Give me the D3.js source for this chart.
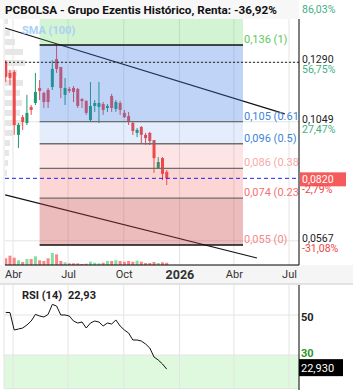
<!DOCTYPE html>
<html>
<head>
<meta charset="utf-8">
<script src="https://cdn.jsdelivr.net/npm/d3@7"></script>
<style>
    body { margin: 0; background: #fff; }
    svg { display: block; font-family: Roboto, "Noto Sans", sans-serif; }
</style>
</head>
<body>
<div id="chart-area"></div>
<script>

// ---- data ----
const titleText = "PCBOLSA - Grupo Ezentis Histórico, Renta: -36,92%";

// weekly candles, first week ~ 20 Mar 2025
const firstWeek = new Date(2025, 2, 20);
const opens  = [0.1291,0.1247,0.1251,0.0996,0.1068,0.1044,0.1109,0.1125,0.1186,0.1166,0.1178,0.1190,0.1303,0.1271,0.1158,0.1182,0.1186,0.1182,0.1141,0.1133,0.1056,0.1113,0.1109,0.1121,0.1105,0.1153,0.1101,0.1125,0.1085,0.1072,0.1044,0.1004,0.1028,0.0996,0.1004,0.0975,0.0862,0.0902,0.0846];
const highs  = [0.1299,0.1259,0.1259,0.1044,0.1077,0.1158,0.1117,0.1247,0.1218,0.1170,0.1186,0.1299,0.1360,0.1271,0.1226,0.1190,0.1194,0.1186,0.1145,0.1137,0.1210,0.1137,0.1210,0.1129,0.1121,0.1162,0.1137,0.1133,0.1097,0.1089,0.1052,0.1024,0.1032,0.1004,0.1008,0.0975,0.0906,0.0906,0.0854];
const lows   = [0.1210,0.1198,0.0996,0.0943,0.1016,0.1036,0.1077,0.1117,0.1137,0.1105,0.1105,0.1178,0.1247,0.1145,0.1117,0.1166,0.1129,0.1105,0.1105,0.1077,0.1048,0.1089,0.1044,0.1077,0.1089,0.1089,0.1089,0.1077,0.1064,0.1036,0.0996,0.0987,0.0963,0.0955,0.0955,0.0842,0.0858,0.0813,0.0793];
const closes = [0.1230,0.1226,0.1036,0.1036,0.1048,0.1085,0.1097,0.1170,0.1174,0.1129,0.1129,0.1263,0.1263,0.1186,0.1186,0.1174,0.1170,0.1113,0.1133,0.1085,0.1113,0.1125,0.1125,0.1097,0.1113,0.1105,0.1129,0.1097,0.1068,0.1048,0.1012,0.1016,0.0996,0.0983,0.0971,0.0902,0.0886,0.0838,0.0820];
const volumes = [67,93,73,47,30,60,60,87,47,40,67,120,107,40,27,17,17,17,10,13,33,23,17,23,40,40,47,40,33,40,33,43,33,20,20,30,20,27,23];
const rsiValues = [51.3,51.2,42.5,43,43.5,45,47,50.3,49.5,49,50.3,55.3,54.5,50,50,49.5,47,46,46.5,43.5,46,47,46.5,44.5,46,45.5,47.5,44.5,42.5,41,37.5,37.5,37,35.5,33.5,29,27.5,25.5,22.93];

// volume profile on the left edge
const profilePrices = [0.1457,0.1409,0.1372,0.1332,0.1287,0.1247,0.1206,0.1166,0.1125,0.1085,0.1044,0.1004,0.0963,0.0923,0.0882,0.0842];
const profileVolumes = [3,5,10,18,20,12,18,15,17,15,18,8,5,4,3,2];

// fibonacci retracement
const fibLevels = [0.136, 0.105, 0.096, 0.086, 0.074, 0.055];
const fibLabels = ["0,136 (1)", "0,105 (0.618)", "0,096 (0.5)", "0,086 (0.382)", "0,074 (0.236)", "0,055 (0)"];
const fibStart = new Date(2025, 4, 15);
const fibEnd = new Date(2026, 3, 16);

// channel lines [date, price]
const upperLine = [[new Date(2025, 2, 19), 0.1429], [new Date(2026, 5, 24), 0.1081]];
const lowerLine = [[new Date(2025, 2, 19), 0.0753], [new Date(2026, 4, 9), 0.0497]];

const refPrice = 0.1290;
const lastPrice = 0.0820;
const lastPriceLabel = "0,0820";
const lastPctLabel = "-2,79%";
const priceTicks = [0.1290, 0.1049, 0.0567];
const priceTickLabels = ["0,1290", "0,1049", "0,0567"];
const pctLabels = ["56,75%", "27,47%", "-31,08%"];
const topPctLabel = "86,03%";

const monthTicks = [new Date(2025,3,1), new Date(2025,6,1), new Date(2025,9,1), new Date(2026,0,1), new Date(2026,3,1), new Date(2026,6,1)];
const monthLabels = ["Abr", "Jul", "Oct", "2026", "Abr", "Jul"];
const rsiTicks = [50, 30];
const rsiLast = 22.93;

class PriceChartVis {

    constructor(parentElement) {
        this.parentElement = parentElement;
        this.dates = opens.map((d, i) => d3.timeDay.offset(firstWeek, 7 * i));
        this.initVis();
    }

    initVis() {
        let vis = this;

        vis.width = 353;
        vis.height = 390;
        vis.plot = {left: 5, right: 299, top: 19, bottom: 265};
        vis.rsiPanel = {top: 285, bottom: 389};

        vis.svg = d3.select("#" + vis.parentElement).append("svg")
            .attr("width", vis.width)
            .attr("height", vis.height);

        // scales
        vis.x = d3.scaleTime()
            .domain([new Date(2025, 3, 1), new Date(2026, 6, 1)])
            .range([13, 289]);

        vis.y = d3.scaleLinear()
            .domain([0.055, 0.136])
            .range([245, 45]);

        vis.yRsi = d3.scaleLinear()
            .domain([30, 50])
            .range([355, 315]);

        vis.yVol = d3.scaleLinear()
            .domain([0, 100])
            .range([vis.plot.bottom, vis.plot.bottom - 10]);

        vis.svg.append("defs").append("clipPath")
            .attr("id", "plot-clip")
            .append("rect")
            .attr("x", vis.plot.left)
            .attr("y", vis.plot.top)
            .attr("width", vis.plot.right - vis.plot.left)
            .attr("height", vis.plot.bottom - vis.plot.top);

        vis.drawFrame();
        vis.drawPricePanel();
        vis.drawRsiPanel();
    }

    drawFrame() {
        let vis = this;

        // title strip
        vis.svg.append("rect")
            .attr("x", 0).attr("y", 0)
            .attr("width", vis.plot.right).attr("height", vis.plot.top)
            .attr("fill", "#f7f7f7");

        vis.svg.append("text")
            .attr("x", 5)
            .attr("y", 14)
            .attr("font-size", 11.7)
            .attr("font-weight", "bold")
            .attr("fill", "#111")
            .text(titleText);

        // date axis strip
        vis.svg.append("rect")
            .attr("x", 0).attr("y", vis.plot.bottom)
            .attr("width", vis.width).attr("height", vis.rsiPanel.top - vis.plot.bottom)
            .attr("fill", "#f5f5f5");

        vis.svg.append("line")
            .attr("x1", 0).attr("x2", vis.width)
            .attr("y1", vis.rsiPanel.top - 1).attr("y2", vis.rsiPanel.top - 1)
            .attr("stroke", "#e2e2e2")
            .attr("stroke-width", 2);

        let xAxis = d3.axisBottom(vis.x)
            .tickValues(monthTicks)
            .tickSize(0)
            .tickFormat((d, i) => monthLabels[i]);

        let axisG = vis.svg.append("g")
            .attr("transform", "translate(0," + (vis.plot.bottom + 2) + ")")
            .call(xAxis);
        axisG.select(".domain").remove();
        axisG.selectAll("text")
            .attr("font-family", "Roboto, sans-serif")
            .attr("fill", "#333")
            .attr("font-weight", (d, i) => monthLabels[i] === "2026" ? "bold" : "normal")
            .attr("font-size", (d, i) => monthLabels[i] === "2026" ? 12.5 : 11);
    }

    drawPricePanel() {
        let vis = this;
        let p = vis.plot;

        let g = vis.svg.append("g").attr("clip-path", "url(#plot-clip)");

        // vertical grid
        g.selectAll(".vgrid")
            .data(monthTicks)
            .enter().append("line")
            .attr("x1", d => vis.x(d)).attr("x2", d => vis.x(d))
            .attr("y1", p.top).attr("y2", p.bottom)
            .attr("stroke", "#e4e4e4");

        // horizontal grid
        g.selectAll(".hgrid")
            .data(priceTicks)
            .enter().append("line")
            .attr("x1", p.left).attr("x2", p.right)
            .attr("y1", d => vis.y(d)).attr("y2", d => vis.y(d))
            .attr("stroke", "#e4e4e4");

        // volume profile
        g.selectAll(".profile")
            .data(profilePrices)
            .enter().append("rect")
            .attr("x", p.left)
            .attr("y", d => vis.y(d) - 3)
            .attr("width", (d, i) => profileVolumes[i])
            .attr("height", 6)
            .attr("fill", "#e6e6e6");

        // channel lines
        let line = d3.line().x(d => vis.x(d[0])).y(d => vis.y(d[1]));
        [upperLine, lowerLine].forEach(l => {
            g.append("path")
                .datum(l)
                .attr("d", line)
                .attr("fill", "none")
                .attr("stroke", "#111")
                .attr("stroke-width", 1.1);
        });

        // volume bars
        let up = (i) => closes[i] >= opens[i];
        g.selectAll(".vol")
            .data(volumes)
            .enter().append("rect")
            .attr("x", (d, i) => vis.x(vis.dates[i]) - 1.5)
            .attr("width", 3)
            .attr("y", d => vis.yVol(d))
            .attr("height", d => vis.plot.bottom - vis.yVol(d))
            .attr("fill", (d, i) => up(i) ? "#7fe0a0" : "#fb8585");

        // candles
        let candleColor = (i) => up(i) ? "#1f9a72" : "#f34848";
        let candle = g.selectAll(".candle")
            .data(opens)
            .enter().append("g");

        candle.append("line")
            .attr("x1", (d, i) => vis.x(vis.dates[i]))
            .attr("x2", (d, i) => vis.x(vis.dates[i]))
            .attr("y1", (d, i) => vis.y(highs[i]))
            .attr("y2", (d, i) => vis.y(lows[i]))
            .attr("stroke", (d, i) => candleColor(i))
            .attr("stroke-width", 1);

        candle.append("rect")
            .attr("x", (d, i) => vis.x(vis.dates[i]) - 1.5)
            .attr("width", 3)
            .attr("y", (d, i) => vis.y(Math.max(opens[i], closes[i])))
            .attr("height", (d, i) => Math.max(1, Math.abs(vis.y(opens[i]) - vis.y(closes[i]))))
            .attr("fill", (d, i) => candleColor(i));

        // fibonacci bands, translucent on top of the candles
        let bandColors = ["#4cd44c", "#3c7de6", "#3c7de6", "#f04848", "#f04848", "#c83c3c"];
        let bandAlpha = [0.25, 0.33, 0.14, 0.14, 0.23, 0.35];
        let bandTops = [vis.y.invert(p.top)].concat(fibLevels.slice(0, 5));
        let bandBottoms = fibLevels;
        let fx0 = vis.x(fibStart), fx1 = vis.x(fibEnd);

        g.selectAll(".fib-band")
            .data(bandTops)
            .enter().append("rect")
            .attr("x", fx0)
            .attr("width", fx1 - fx0)
            .attr("y", d => vis.y(d))
            .attr("height", (d, i) => vis.y(bandBottoms[i]) - vis.y(d))
            .attr("fill", (d, i) => bandColors[i])
            .attr("fill-opacity", (d, i) => bandAlpha[i]);

        g.selectAll(".fib-line")
            .data(fibLevels)
            .enter().append("line")
            .attr("x1", fx0).attr("x2", fx1)
            .attr("y1", d => vis.y(d)).attr("y2", d => vis.y(d))
            .attr("stroke", (d, i) => (i === 0 || i === 5) ? "#111" : "#6e6e6e")
            .attr("stroke-width", 1.3);

        let fibColors = ["#5cc85c", "#3d85d8", "#3d85d8", "#f7a8a8", "#f57272", "#f58a8a"];
        g.selectAll(".fib-label")
            .data(fibLevels)
            .enter().append("text")
            .attr("x", fx1 + 1)
            .attr("y", d => vis.y(d) - 2)
            .attr("font-size", 11)
            .attr("fill", (d, i) => fibColors[i])
            .text((d, i) => fibLabels[i]);

        // SMA legend
        g.append("text")
            .attr("x", 22).attr("y", 34)
            .attr("font-size", 11)
            .attr("font-weight", "bold")
            .attr("fill", "#a9d1f7")
            .text("SMA (100)");

        // reference dotted line and last price dashed line
        g.append("line")
            .attr("x1", p.left).attr("x2", p.right)
            .attr("y1", vis.y(refPrice)).attr("y2", vis.y(refPrice))
            .attr("stroke", "#222")
            .attr("stroke-dasharray", "2,2");

        g.append("line")
            .attr("x1", p.left).attr("x2", p.right)
            .attr("y1", vis.y(lastPrice)).attr("y2", vis.y(lastPrice))
            .attr("stroke", "#2222ee")
            .attr("stroke-dasharray", "4,3");

        // frame
        vis.svg.append("line")
            .attr("x1", p.left).attr("x2", p.right)
            .attr("y1", p.bottom).attr("y2", p.bottom)
            .attr("stroke", "#000");
        vis.svg.append("line")
            .attr("x1", p.right).attr("x2", p.right)
            .attr("y1", p.top).attr("y2", p.bottom)
            .attr("stroke", "#000");
        vis.svg.append("line")
            .attr("x1", p.left - 1).attr("x2", p.left - 1)
            .attr("y1", p.top).attr("y2", p.bottom)
            .attr("stroke", "#e4e4e4");

        // right axis labels
        let ax = vis.svg.append("g").attr("font-size", 10.5);
        ax.append("text")
            .attr("x", p.right + 3).attr("y", 13)
            .attr("fill", "#3fb083")
            .text(topPctLabel);

        ax.selectAll(".tick-label")
            .data(priceTicks)
            .enter().append("text")
            .attr("x", p.right + 3)
            .attr("y", d => vis.y(d) + 1)
            .attr("fill", "#222")
            .text((d, i) => priceTickLabels[i]);

        ax.selectAll(".pct-label")
            .data(priceTicks)
            .enter().append("text")
            .attr("x", p.right + 3)
            .attr("y", d => vis.y(d) + 11)
            .attr("fill", (d, i) => pctLabels[i].startsWith("-") ? "#f04545" : "#3fb083")
            .text((d, i) => pctLabels[i]);

        ax.append("rect")
            .attr("x", p.right + 1)
            .attr("y", vis.y(lastPrice) - 6)
            .attr("width", 46)
            .attr("height", 14)
            .attr("fill", "#f55b5b");
        ax.append("text")
            .attr("x", p.right + 3)
            .attr("y", vis.y(lastPrice) + 5)
            .attr("fill", "#fff")
            .text(lastPriceLabel);
        ax.append("text")
            .attr("x", p.right + 3)
            .attr("y", vis.y(lastPrice) + 15)
            .attr("fill", "#f04545")
            .text(lastPctLabel);
    }

    drawRsiPanel() {
        let vis = this;
        let r = vis.rsiPanel;
        let p = vis.plot;

        let g = vis.svg.append("g");

        // oversold zone
        g.append("rect")
            .attr("x", p.left - 1)
            .attr("y", vis.yRsi(30))
            .attr("width", p.right - p.left + 1)
            .attr("height", r.bottom - vis.yRsi(30))
            .attr("fill", "#dff9df");

        g.selectAll(".rsi-vgrid")
            .data(monthTicks)
            .enter().append("line")
            .attr("x1", d => vis.x(d)).attr("x2", d => vis.x(d))
            .attr("y1", r.top).attr("y2", r.bottom)
            .attr("stroke", "#e4e4e4");

        g.selectAll(".rsi-hgrid")
            .data(rsiTicks)
            .enter().append("line")
            .attr("x1", p.left - 1).attr("x2", p.right)
            .attr("y1", d => vis.yRsi(d)).attr("y2", d => vis.yRsi(d))
            .attr("stroke", "#e4e4e4");

        g.append("line")
            .attr("x1", p.left - 1).attr("x2", p.left - 1)
            .attr("y1", r.top).attr("y2", r.bottom)
            .attr("stroke", "#e4e4e4");
        g.append("line")
            .attr("x1", p.left - 1).attr("x2", p.right)
            .attr("y1", r.bottom - 0.5).attr("y2", r.bottom - 0.5)
            .attr("stroke", "#e4e4e4");

        g.append("path")
            .datum(rsiValues)
            .attr("d", d3.line()
                .x((d, i) => vis.x(vis.dates[i]))
                .y(d => vis.yRsi(d)))
            .attr("fill", "none")
            .attr("stroke", "#111")
            .attr("stroke-width", 1);

        g.append("text")
            .attr("x", 22).attr("y", 299)
            .attr("font-size", 11)
            .attr("font-weight", "bold")
            .attr("fill", "#222")
            .text("RSI (14)");
        g.append("text")
            .attr("x", 68).attr("y", 299)
            .attr("font-size", 11)
            .attr("font-weight", "bold")
            .attr("fill", "#222")
            .text(d3.format(".2f")(rsiLast).replace(".", ","));

        g.append("line")
            .attr("x1", p.right).attr("x2", p.right)
            .attr("y1", r.top).attr("y2", vis.height)
            .attr("stroke", "#000");

        g.append("text")
            .attr("x", p.right + 2).attr("y", vis.yRsi(50) + 6)
            .attr("font-size", 11)
            .attr("font-weight", "bold")
            .attr("fill", "#222")
            .text("50");
        g.append("text")
            .attr("x", p.right + 2).attr("y", vis.yRsi(30) + 2)
            .attr("font-size", 11)
            .attr("font-weight", "bold")
            .attr("fill", "#2a9a2a")
            .text("30");

        g.append("rect")
            .attr("x", p.right)
            .attr("y", vis.yRsi(rsiLast) - 10)
            .attr("width", 44)
            .attr("height", 17)
            .attr("fill", "#000");
        g.append("text")
            .attr("x", p.right + 2)
            .attr("y", vis.yRsi(rsiLast) + 3)
            .attr("font-size", 11)
            .attr("fill", "#fff")
            .text(d3.format(".3f")(rsiLast).replace(".", ","));
    }
}

new PriceChartVis("chart-area");
</script>
</body>
</html>
